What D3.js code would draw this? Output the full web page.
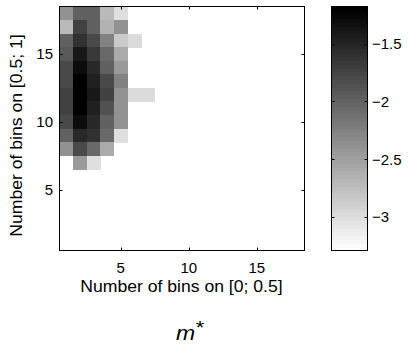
<!DOCTYPE html>
<html>
<head>
<meta charset="utf-8">
<script src="https://cdn.jsdelivr.net/npm/d3@7"></script>
<style>
  body { margin: 0; background: #fff; }
  text { font-family: "Liberation Sans", Arial, sans-serif; fill: #000; }
</style>
</head>
<body>
<div id="chart"></div>
<script>
// bins on each axis
const xBins = [1, 2, 3, 4, 5, 6, 7, 8, 9, 10, 11, 12, 13, 14, 15, 16, 17, 18];
const yBins = [1, 2, 3, 4, 5, 6, 7, 8, 9, 10, 11, 12, 13, 14, 15, 16, 17, 18];
const axisTicks = [5, 10, 15];
const colorTicks = [-1.5, -2, -2.5, -3];
const colorDomain = [-3.29, -1.18];

// log values, one row per y bin (7..18), columns start at x = 1; null = empty
const rowY = [18, 17, 16, 15, 14, 13, 12, 11, 10, 9, 8, 7];
const rowValues = [
  [-2.37, -1.98, -1.98, -2.70, -3.01],
  [-2.70, -1.71, -1.98, -2.64, -2.37],
  [-1.98, -1.58, -1.78, -2.24, -2.83, -2.97],
  [-1.91, -1.38, -1.65, -2.04, -2.57],
  [-1.78, -1.31, -1.51, -1.98, -2.44],
  [-1.78, -1.19, -1.45, -1.78, -2.24],
  [-1.71, -1.19, -1.38, -1.71, -2.37, -2.97, -2.97],
  [-1.71, -1.20, -1.45, -1.84, -2.37],
  [-1.78, -1.31, -1.51, -1.98, -2.37],
  [-1.98, -1.51, -1.58, -2.04, -3.01],
  [-2.37, -1.78, -2.04, -2.57],
  [null, -2.44, -3.01]
];

const cells = [];
rowValues.forEach((row, i) => {
  row.forEach((v, j) => {
    if (v !== null) cells.push({ x: xBins[j], y: rowY[i], v: v });
  });
});

const W = 411, H = 345;
const svg = d3.select('#chart').append('svg')
  .attr('width', W).attr('height', H);

const plot = { left: 59.5, top: 6.5, right: 304.5, bottom: 250.5 };
const bar = { left: 331.5, top: 6.5, right: 367.5, bottom: 250.5 };

const x = d3.scaleLinear().domain([0.5, 18.5]).range([plot.left, plot.right]);
const y = d3.scaleLinear().domain([0.5, 18.5]).range([plot.bottom, plot.top]);

// matlab flipud(gray), 64 levels
const nLevels = 64;
function color(v) {
  let k = Math.floor((v - colorDomain[0]) / (colorDomain[1] - colorDomain[0]) * nLevels);
  k = Math.max(0, Math.min(nLevels - 1, k));
  const g = Math.round((1 - k / (nLevels - 1)) * 255);
  return d3.rgb(g, g, g).toString();
}

svg.append('g').attr('shape-rendering', 'crispEdges')
  .selectAll('rect')
  .data(cells)
  .enter()
  .append('rect')
  .attr('x', d => x(d.x - 0.5))
  .attr('y', d => y(d.y + 0.5))
  .attr('width', d => x(d.x + 0.5) - x(d.x - 0.5) + 0.5)
  .attr('height', d => y(d.y - 0.5) - y(d.y + 0.5) + 0.5)
  .attr('fill', d => color(d.v));

// frame and inside ticks
const frame = svg.append('g').attr('stroke', '#000').attr('fill', 'none');
frame.append('rect')
  .attr('x', plot.left).attr('y', plot.top)
  .attr('width', plot.right - plot.left).attr('height', plot.bottom - plot.top);

const tickLen = 3;
axisTicks.forEach(t => {
  const tx = Math.round(x(t)) + 0.5, ty = Math.round(y(t)) + 0.5;
  frame.append('line').attr('x1', tx).attr('x2', tx).attr('y1', plot.bottom).attr('y2', plot.bottom - tickLen);
  frame.append('line').attr('x1', tx).attr('x2', tx).attr('y1', plot.top).attr('y2', plot.top + tickLen);
  frame.append('line').attr('y1', ty).attr('y2', ty).attr('x1', plot.left).attr('x2', plot.left + tickLen);
  frame.append('line').attr('y1', ty).attr('y2', ty).attr('x1', plot.right).attr('x2', plot.right - tickLen);
});

svg.append('g').selectAll('text.xt')
  .data(axisTicks).enter().append('text')
  .attr('x', d => x(d)).attr('y', 273)
  .attr('text-anchor', 'middle').attr('font-size', 15)
  .text(d => d);

svg.append('g').selectAll('text.yt')
  .data(axisTicks).enter().append('text')
  .attr('x', 53).attr('y', d => y(d) + 5.5)
  .attr('text-anchor', 'end').attr('font-size', 15)
  .text(d => d);

svg.append('text')
  .attr('transform', 'translate(181.5,292) scale(1.1,1)')
  .attr('text-anchor', 'middle').attr('font-size', 16)
  .text('Number of bins on [0; 0.5]');

svg.append('text')
  .attr('transform', 'translate(22,135.5) rotate(-90) scale(1.1,1)')
  .attr('text-anchor', 'middle').attr('font-size', 16)
  .text('Number of bins on [0.5; 1]');

// m* title under the axis label
const m = svg.append('text')
  .attr('transform', 'translate(176,340) scale(1.15,1)')
  .attr('font-size', 20).attr('font-style', 'italic');
m.append('tspan').text('m');
m.append('tspan').attr('font-size', 19).attr('font-style', 'normal').attr('dx', 0.5).attr('dy', -6).text('*');

// colorbar
const c = d3.scaleLinear().domain(colorDomain).range([bar.bottom, bar.top]);
const levels = d3.range(nLevels);
const step = (colorDomain[1] - colorDomain[0]) / nLevels;
svg.append('g').attr('shape-rendering', 'crispEdges')
  .selectAll('rect')
  .data(levels).enter().append('rect')
  .attr('x', bar.left)
  .attr('width', bar.right - bar.left)
  .attr('y', k => c(colorDomain[0] + (k + 1) * step))
  .attr('height', k => c(colorDomain[0] + k * step) - c(colorDomain[0] + (k + 1) * step) + 1)
  .attr('fill', k => color(colorDomain[0] + (k + 0.5) * step));

const cb = svg.append('g').attr('stroke', '#000').attr('fill', 'none');
cb.append('rect')
  .attr('x', bar.left).attr('y', bar.top)
  .attr('width', bar.right - bar.left).attr('height', bar.bottom - bar.top);
colorTicks.forEach(t => {
  const ty = Math.round(c(t)) + 0.5;
  cb.append('line').attr('x1', bar.left).attr('x2', bar.left + tickLen).attr('y1', ty).attr('y2', ty);
  cb.append('line').attr('x1', bar.right).attr('x2', bar.right - tickLen).attr('y1', ty).attr('y2', ty);
});

svg.append('g').selectAll('text.ct')
  .data(colorTicks).enter().append('text')
  .attr('x', 372).attr('y', d => c(d) + 5.5)
  .attr('font-size', 15)
  .text(d => String(d).replace('-', '\u2212'));
</script>
</body>
</html>
